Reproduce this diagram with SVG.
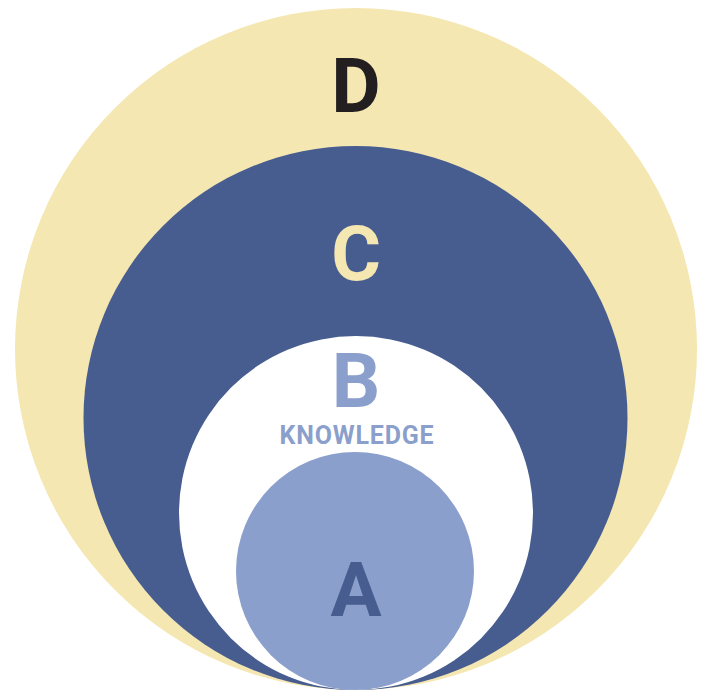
<svg xmlns="http://www.w3.org/2000/svg" width="705" height="691" viewBox="0 0 705 691">
<style>
.t{font-family:Roboto,"Liberation Sans",sans-serif;font-weight:bold;text-anchor:middle}
.big{font-size:76px}
</style>
<rect width="705" height="691" fill="#ffffff"/>
<g id="D"><circle cx="356" cy="349" r="341" fill="#f5e7b2"/><text class="t big" x="356" y="112" fill="#231f20">D</text></g>
<g id="C"><circle cx="355.5" cy="418" r="272" fill="#475d8f"/><text class="t big" x="356" y="280" fill="#f5e7b2">C</text></g>
<g id="B"><circle cx="356" cy="513" r="177" fill="#ffffff"/><text class="t big" x="356" y="407" fill="#8b9fcc">B</text><text class="t" x="357" y="444" font-size="25" letter-spacing="0.8" fill="#8b9fcc">KNOWLEDGE</text></g>
<g id="A"><circle cx="355" cy="571" r="119" fill="#8b9fcc"/><text class="t big" x="356" y="616" fill="#475d8f">A</text></g>
<g id="connectors"/>
</svg>
